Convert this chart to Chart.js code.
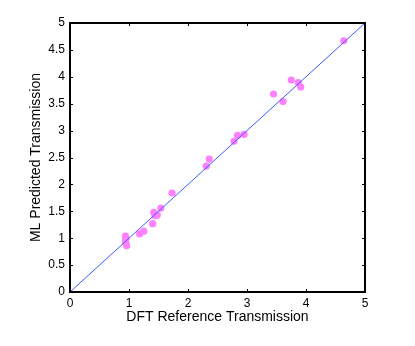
<!DOCTYPE html>
<html>
<head>
<meta charset="utf-8">
<script src="https://cdn.jsdelivr.net/npm/chart.js@4"></script>
<style>
  html, body { margin: 0; padding: 0; background: #fff; }
  #chart { display: block; }
</style>
</head>
<body>
<canvas id="chart" width="415" height="346"></canvas>
<script>
// DFT reference vs ML predicted transmission
const dftX = [4.64, 3.75, 3.87, 3.91, 3.45, 3.61, 2.84, 2.95, 2.78, 2.36, 2.31, 1.73,
  1.54, 1.42, 1.48, 1.44, 1.40, 1.25, 1.18, 0.94, 0.95, 0.94, 0.95, 0.96];
const mlY = [4.67, 3.94, 3.89, 3.81, 3.68, 3.54, 2.91, 2.93, 2.80, 2.47, 2.34, 1.84,
  1.56, 1.48, 1.43, 1.42, 1.27, 1.13, 1.08, 1.04, 1.00, 0.95, 0.90, 0.86];
// y = x reference line
const refX = [0, 5];
const refY = [0, 5];
const xTicks = [0, 1, 2, 3, 4, 5];
const yTicks = [0, 0.5, 1, 1.5, 2, 2.5, 3, 3.5, 4, 4.5, 5];

Chart.defaults.font.family = 'Arial, "Liberation Sans", sans-serif';
Chart.defaults.color = '#000';

// MATLAB-style box with inward ticks on all four sides
const boxFrame = {
  id: 'boxFrame',
  afterDatasetsDraw(chart) {
    const { ctx, chartArea: a, scales } = chart;
    const len = 3;
    ctx.save();
    ctx.strokeStyle = '#000';
    ctx.lineWidth = 1;
    ctx.beginPath();
    xTicks.forEach(v => {
      const px = Math.round(scales.x.getPixelForValue(v)) + 0.5;
      ctx.moveTo(px, a.bottom); ctx.lineTo(px, a.bottom - len);
      ctx.moveTo(px, a.top); ctx.lineTo(px, a.top + len);
    });
    yTicks.forEach(v => {
      const py = Math.round(scales.y.getPixelForValue(v)) + 0.5;
      ctx.moveTo(a.left, py); ctx.lineTo(a.left + len, py);
      ctx.moveTo(a.right, py); ctx.lineTo(a.right - len, py);
    });
    ctx.stroke();
    ctx.lineWidth = 2;
    ctx.strokeRect(a.left, a.top, a.right - a.left, a.bottom - a.top);
    ctx.restore();
  }
};

new Chart(document.getElementById('chart'), {
  type: 'scatter',
  data: {
    datasets: [
      {
        label: 'y = x',
        data: refX.map((x, i) => ({ x, y: refY[i] })),
        showLine: true,
        borderColor: '#3d5cff',
        borderWidth: 1,
        pointRadius: 0,
        order: 0,
      },
      {
        label: 'Samples',
        data: dftX.map((x, i) => ({ x, y: mlY[i] })),
        backgroundColor: '#ff80ff',
        borderWidth: 0,
        pointRadius: 3.6,
        order: 1,
      },
    ],
  },
  options: {
    responsive: false,
    animation: false,
    events: [],
    layout: { padding: { top: 23, right: 50, left: 0, bottom: 0 } },
    plugins: { legend: { display: false }, tooltip: { enabled: false } },
    scales: {
      x: {
        type: 'linear',
        min: 0,
        max: 5,
        afterBuildTicks: (s) => { s.ticks = xTicks.map(v => ({ value: v })); },
        afterFit: (s) => { s.height = 54; },
        grid: { display: false, drawTicks: false },
        border: { display: false },
        ticks: { font: { size: 12 }, padding: 4, callback: (v) => String(v) },
        title: {
          display: true,
          text: 'DFT Reference Transmission',
          font: { size: 14 },
          padding: { top: 0, bottom: 20 },
        },
      },
      y: {
        type: 'linear',
        min: 0,
        max: 5,
        afterBuildTicks: (s) => { s.ticks = yTicks.map(v => ({ value: v })); },
        afterFit: (s) => { s.width = 70; },
        grid: { display: false, drawTicks: false },
        border: { display: false },
        ticks: { font: { size: 12 }, padding: 5, callback: (v) => String(v) },
        title: {
          display: true,
          text: 'ML Predicted Transmission',
          font: { size: 14 },
          padding: { top: 28, bottom: 0 },
        },
      },
    },
  },
  plugins: [boxFrame],
});
</script>
</body>
</html>
